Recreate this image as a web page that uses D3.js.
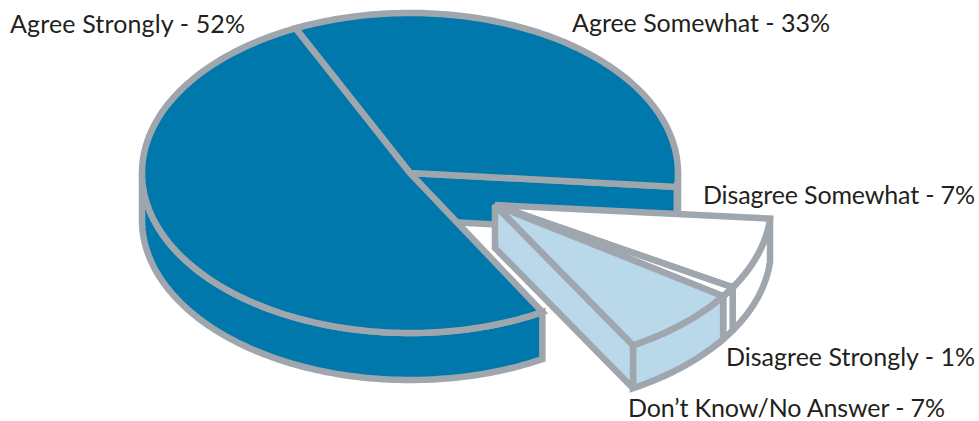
<!DOCTYPE html>
<html><head><meta charset="utf-8">
<script src="https://cdn.jsdelivr.net/npm/d3@7"></script>
<style>html,body{margin:0;padding:0;background:#fff}svg{display:block}</style>
</head><body><svg id="c" width="979" height="421"></svg>
<script>
const categories = ["Agree Somewhat","Disagree Somewhat","Disagree Strongly","Don’t Know/No Answer","Agree Strongly"];
const values = [33,7,1,7,52];
const labelText = categories.map((c,i)=>`${c} - ${values[i]}%`);

(function(){
const STROKE="#9fa6ad", BLUE="#0078ab", LIGHT="#b9d8ea", INK="#231f20";
const main={cx:410,cy:173,rx:268,ry:160,depth:47};
const exploded={cx:495,cy:205,rx:276,ry:162,depth:43};
const fills=[BLUE,"#fff","#fff",LIGHT,BLUE];
const labelAt=[[10,33],[572,32],[703,204],[726,366],[628,417]];
const labelWidth=[235,258,272,249,317];
const labelIndex=[4,0,1,2,3];
const rad=Math.PI/180;

const pie=d3.pie().sort(null).startAngle(-24*rad).endAngle(336*rad);
const arcs=pie(values);
// small hand-drawn trims of the reference's wedge edges
const mainTrim=d3.scaleLinear().domain([arcs[0].startAngle,arcs[0].endAngle]).range([-25.3*rad,95*rad]);
const strongStart=150.4*rad, strongEnd=334.7*rad;
const explodedAngle=d3.scaleLinear().domain([arcs[1].startAngle,arcs[3].endAngle]).range([94.8*rad,150*rad]);
const svg=d3.select("#c");
const line=d3.line().x(d=>d[0]).y(d=>d[1]);
function proj(g){
  const x=d3.scaleLinear().domain([-1,1]).range([g.cx-g.rx,g.cx+g.rx]);
  const y=d3.scaleLinear().domain([-1,1]).range([g.cy+g.ry,g.cy-g.ry]);
  return (a,dz=0)=>[x(Math.sin(a)),y(Math.cos(a))+dz];
}
function arcPts(p,a0,a1,dz=0){
  const n=Math.max(2,Math.ceil(Math.abs(a1-a0)/0.02));
  return d3.range(n+1).map(i=>p(a0+(a1-a0)*i/n,dz));
}
function draw(pts,fill){
  svg.append("path").attr("d",line(pts)+"Z").attr("fill",fill).attr("stroke",STROKE)
    .attr("stroke-width",6.5).attr("stroke-linejoin","miter").attr("stroke-miterlimit",2.5);
}
function sector(g,p,a0,a1,fill){ draw([[g.cx,g.cy],...arcPts(p,a0,a1)],fill); }
function side(g,p,a0,a1,fill){
  draw([...arcPts(p,a0,a1),...arcPts(p,a1,a0,g.depth)],fill);
}
function cutFace(g,p,a,fill){
  draw([[g.cx,g.cy],p(a),p(a,g.depth),[g.cx,g.cy+g.depth]],fill);
}
const pm=proj(main), pe=proj(exploded);
const a0s=mainTrim(arcs[0].startAngle), a0e=mainTrim(arcs[0].endAngle);
cutFace(main,pm,a0e,BLUE);
side(main,pm,Math.PI/2,a0e,BLUE);
sector(main,pm,a0s,a0e,BLUE);
side(main,pm,strongStart,3*Math.PI/2,BLUE);
sector(main,pm,strongStart,strongEnd,BLUE);
[1,2,3].forEach(i=>{
  const s=explodedAngle(arcs[i].startAngle), e=explodedAngle(arcs[i].endAngle);
  side(exploded,pe,s,e,fills[i]);
  if(i===3) cutFace(exploded,pe,e,fills[i]);
  sector(exploded,pe,s,e,fills[i]);
});
svg.selectAll("text.l").data(labelIndex).join("text").attr("class","l")
  .attr("x",(d,i)=>labelAt[i][0]).attr("y",(d,i)=>labelAt[i][1])
  .attr("textLength",(d,i)=>labelWidth[i])
  .attr("font-family","Lato").attr("font-size",25).attr("fill",INK).text(d=>labelText[d]);
})();
</script></body></html>
